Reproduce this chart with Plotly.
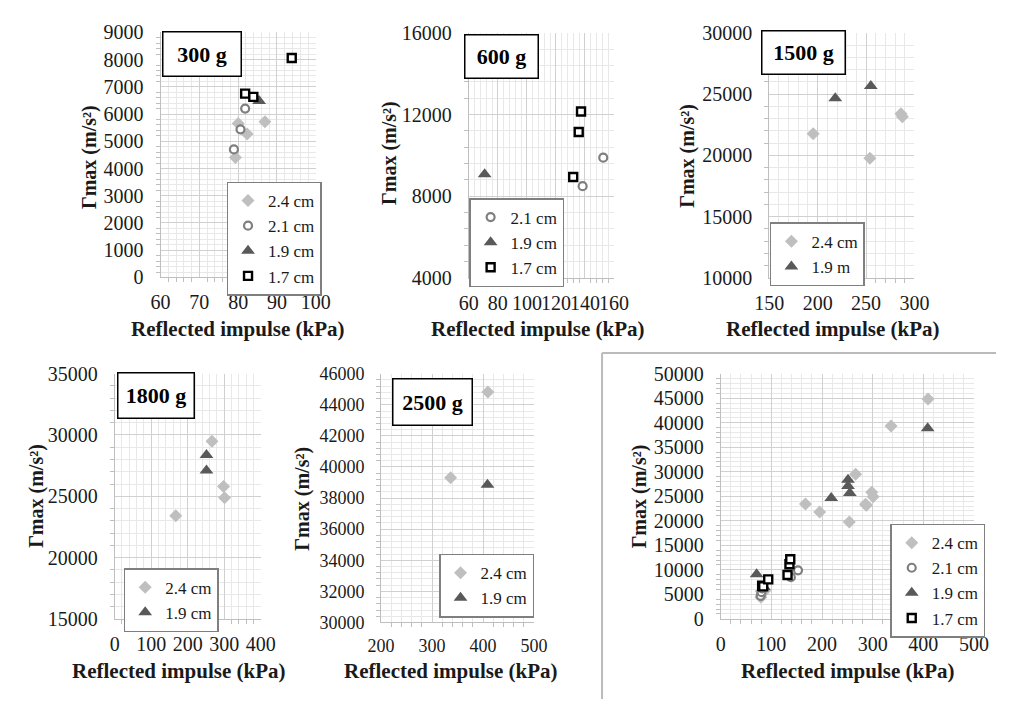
import plotly.graph_objects as go

W, H = 1011, 710

# ---------------- data ----------------
# 300 g
g300_24_x = [79.3, 80.0, 82.3, 86.9]
g300_24_y = [4400, 5650, 5270, 5720]
g300_21_x = [78.9, 80.6, 81.8]
g300_21_y = [4700, 5440, 6200]
g300_19_x = [85.4]
g300_19_y = [6480]
g300_17_x = [81.8, 83.9, 93.8]
g300_17_y = [6750, 6630, 8060]
# 600 g
g600_21_x = [138.4, 152.6]
g600_21_y = [8490, 9890]
g600_19_x = [70.9]
g600_19_y = [9080]
g600_17_x = [131.9, 135.7, 137.3]
g600_17_y = [8940, 11150, 12150]
# 1500 g
g1500_24_x = [195.4, 253.9, 286.0, 287.5]
g1500_24_y = [21770, 19760, 23400, 23150]
g1500_19_x = [218.2, 254.9]
g1500_19_y = [24670, 25670]
# 1800 g
g1800_24_x = [167.3, 266.4, 298.2, 300.9]
g1800_24_y = [23410, 29490, 25800, 24880]
g1800_19_x = [251.3, 251.3]
g1800_19_y = [28360, 27100]
# 2500 g
g2500_24_x = [336.3, 409.3]
g2500_24_y = [39310, 44820]
g2500_19_x = [408.6]
g2500_19_y = [38860]

panel_titles = ["300 g", "600 g", "1500 g", "1800 g", "2500 g"]
x_title = "Reflected impulse (kPa)"
y_title = "Γmax (m/s²)"

# ---------------- styles ----------------
FONT = "Liberation Serif, 'Times New Roman', 'DejaVu Serif', serif"
STY = {
    "2.4": dict(symbol="diamond", size=10, color="#BFBFBF", line=dict(width=0, color="#BFBFBF")),
    "2.1": dict(symbol="circle", size=8, color="white", line=dict(width=2.2, color="#7F7F7F")),
    "1.9": dict(symbol="triangle-up", size=12, color="#595959", line=dict(width=0, color="#595959")),
    "1.7": dict(symbol="square", size=8, color="white", line=dict(width=2.4, color="black")),
}

# panel layout in pixels: (x0, x1), (ytop, ybottom)
panels = [
    dict(xd=(150, 310), yd=(22, 275), xr=(60, 100), xdt=10, yr=(0, 9000), ydt=1000, fs=20),
    dict(xd=(467.7, 617.3), yd=(22.7, 275.3), xr=(60, 160), xdt=20, yr=(4000, 16000), ydt=4000, fs=20),
    dict(xd=(777.3, 927), yd=(22.7, 275.3), xr=(150, 300), xdt=50, yr=(10000, 30000), ydt=5000, fs=20),
    dict(xd=(102.7, 253.3), yd=(374.3, 627.3), xr=(0, 400), xdt=100, yr=(15000, 35000), ydt=5000, fs=20),
    dict(xd=(377.3, 535), yd=(374.3, 631), xr=(200, 500), xdt=100, yr=(30000, 46000), ydt=2000, fs=18),
    dict(xd=(727.3, 988.3), yd=(374.3, 627.3), xr=(0, 500), xdt=100, yr=(0, 50000), ydt=5000, fs=20),
]
# title boxes (left, top, right, bottom)
tboxes = [(151, 21, 230, 66), (463, 24, 537, 68), (769, 20, 853, 64), (105, 373, 182, 419), (389, 379, 469, 426)]
# legend boxes (left, top)
lboxes = [(218, 176), (468, 193), (778, 218), (112, 575), (437, 560), (902, 529)]
# axis-title centres
xt_pos = [(229, 328), (538, 328), (843, 328), (169, 681), (449, 681), (858, 681)]
yt_pos = [(77, 151), (386, 147), (693, 149), (22, 500), (296, 503), (644, 501)]

series = [
    # panel 1
    [("2.4 cm", "2.4", g300_24_x, g300_24_y), ("2.1 cm", "2.1", g300_21_x, g300_21_y),
     ("1.9 cm", "1.9", g300_19_x, g300_19_y), ("1.7 cm", "1.7", g300_17_x, g300_17_y)],
    # panel 2
    [("2.1 cm", "2.1", g600_21_x, g600_21_y), ("1.9 cm", "1.9", g600_19_x, g600_19_y),
     ("1.7 cm", "1.7", g600_17_x, g600_17_y)],
    # panel 3
    [("2.4 cm", "2.4", g1500_24_x, g1500_24_y), ("1.9 m", "1.9", g1500_19_x, g1500_19_y)],
    # panel 4
    [("2.4 cm", "2.4", g1800_24_x, g1800_24_y), ("1.9 cm", "1.9", g1800_19_x, g1800_19_y)],
    # panel 5
    [("2.4 cm", "2.4", g2500_24_x, g2500_24_y), ("1.9 cm", "1.9", g2500_19_x, g2500_19_y)],
    # panel 6: everything combined
    [("2.4 cm", "2.4", g300_24_x + g1500_24_x + g1800_24_x + g2500_24_x,
      g300_24_y + g1500_24_y + g1800_24_y + g2500_24_y),
     ("2.1 cm", "2.1", g300_21_x + g600_21_x, g300_21_y + g600_21_y),
     ("1.9 cm", "1.9", g300_19_x + g600_19_x + g1500_19_x + g1800_19_x + g2500_19_x,
      g300_19_y + g600_19_y + g1500_19_y + g1800_19_y + g2500_19_y),
     ("1.7 cm", "1.7", g300_17_x + g600_17_x, g300_17_y + g600_17_y)],
]

fig = go.Figure()
layout = dict(
    width=W, height=H, autosize=False,
    margin=dict(l=0, r=0, t=0, b=0),
    paper_bgcolor="white", plot_bgcolor="white",
    font=dict(family=FONT, color="#1a1a1a"),
    showlegend=True,
)
annotations = []
shapes = []

for i, p in enumerate(panels):
    n = i + 1
    sfx = "" if n == 1 else str(n)
    lg = "legend" if n == 1 else "legend%d" % n
    for name, key, xs, ys in series[i]:
        st = STY[key]
        fig.add_trace(go.Scatter(
            x=xs, y=ys, mode="markers", name=name,
            xaxis="x" + sfx, yaxis="y" + sfx, legend=lg,
            marker=dict(symbol=st["symbol"], size=st["size"], color=st["color"], line=st["line"]),
            cliponaxis=False,
        ))
    common = dict(showgrid=True, gridcolor="#D0D0D0", gridwidth=1,
                  showline=True, linecolor="#BFBFBF", linewidth=1,
                  zeroline=False, ticks="", tickangle=0, tickformat="d",
                  tickfont=dict(family=FONT, size=p["fs"], color="#1a1a1a"))
    layout["xaxis" + sfx] = dict(
        common, domain=[p["xd"][0] / W, p["xd"][1] / W],
        range=list(p["xr"]), dtick=p["xdt"], tick0=p["xr"][0],
        anchor="y" + sfx, ticklabelstandoff=7,
        minor=dict(dtick=p["xdt"] / 5, showgrid=True, gridcolor="#E8E8E8",
                   ticks="outside", ticklen=4, tickcolor="#BFBFBF"),
    )
    layout["yaxis" + sfx] = dict(
        common, domain=[1 - p["yd"][1] / H, 1 - p["yd"][0] / H],
        range=list(p["yr"]), dtick=p["ydt"], tick0=p["yr"][0],
        anchor="x" + sfx, ticklabelstandoff=12,
        minor=dict(dtick=p["ydt"] / 5, showgrid=True, gridcolor="#E8E8E8",
                   ticks="outside", ticklen=4, tickcolor="#BFBFBF"),
    )
    lx, ly = lboxes[i]
    layout[lg] = dict(
        x=lx / W, y=1 - ly / H, xref="paper", yref="paper",
        xanchor="left", yanchor="top",
        bgcolor="white", bordercolor="#7F7F7F", borderwidth=1.5,
        font=dict(family=FONT, size=17, color="#1a1a1a"),
        itemwidth=30, traceorder="normal", tracegroupgap=0,
    )
    # axis titles
    cx, cy = xt_pos[i]
    annotations.append(dict(x=cx / W, y=1 - cy / H, xref="paper", yref="paper",
                            text="<b>%s</b>" % x_title, showarrow=False,
                            font=dict(family=FONT, size=21, color="#1a1a1a"),
                            xanchor="center", yanchor="middle"))
    cx, cy = yt_pos[i]
    annotations.append(dict(x=cx / W, y=1 - cy / H, xref="paper", yref="paper",
                            text="<b>%s</b>" % y_title, showarrow=False, textangle=-90,
                            font=dict(family=FONT, size=20, color="#1a1a1a"),
                            xanchor="center", yanchor="middle"))

for i, t in enumerate(panel_titles):
    l, tp, r, b = tboxes[i]
    annotations.append(dict(x=l / W, y=1 - tp / H, xref="paper", yref="paper",
                            xanchor="left", yanchor="top",
                            text="<b>%s</b>" % t, showarrow=False,
                            width=r - l - 2, height=b - tp - 2,
                            align="center", valign="middle",
                            bgcolor="white", bordercolor="black", borderwidth=1.5, borderpad=0,
                            font=dict(family=FONT, size=22, color="black")))

# frame around the combined panel
shapes.append(dict(type="line", xref="paper", yref="paper",
                   x0=605 / W, x1=1.0, y0=1 - 353 / H, y1=1 - 353 / H,
                   line=dict(color="#BBBBBB", width=2)))
shapes.append(dict(type="line", xref="paper", yref="paper",
                   x0=605 / W, x1=605 / W, y0=1 - 353 / H, y1=0,
                   line=dict(color="#BBBBBB", width=2)))

layout["annotations"] = annotations
layout["shapes"] = shapes
fig.update_layout(**layout)
fig.write_html(
    "out.html",
    config={"displayModeBar": False},
    post_script=(
        "document.documentElement.style.margin='0';"
        "document.documentElement.style.overflow='hidden';"
        "document.body.style.margin='0';document.body.style.padding='0';"
        "document.body.style.overflow='hidden';"
    ),
)
